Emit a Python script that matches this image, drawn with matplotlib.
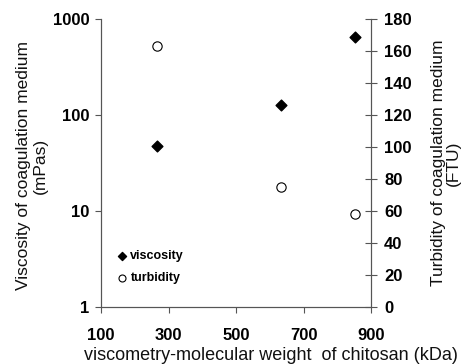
import numpy as np
import matplotlib.pyplot as plt

plt.rcParams['font.family'] = ['Liberation Sans', 'DejaVu Sans']

# data
mw = [265, 633, 852]             # kDa
viscosity = [48, 128, 650]       # mPas (left, log)
turbidity = [163, 75, 58]        # FTU (right)

W, H = 465, 364
fig = plt.figure(figsize=(W / 100, H / 100), dpi=100)
ax = fig.add_axes([101/W, 1-307/H, 270/W, 288/H])
ax2 = ax.twinx()

ax.scatter(mw, viscosity, marker='D', s=30, color='black', label='viscosity', zorder=3)
ax2.scatter(mw, turbidity, marker='o', s=45, facecolor='white', edgecolor='black',
            linewidth=0.8, label='turbidity', zorder=3)

ax.set_yscale('log')
ax.set_ylim(1, 1000)
ax.set_xlim(100, 900)
ax.set_xticks([100, 300, 500, 700, 900])
ax.set_yticks([1, 10, 100, 1000])
ax.set_yticklabels(['1', '10', '100', '1000'])
ax.yaxis.set_minor_locator(plt.NullLocator())
ax2.set_ylim(0, 180)
ax2.set_yticks(np.arange(0, 181, 20))

for a in (ax, ax2):
    for s in a.spines.values():
        s.set_color('#555555')
        s.set_linewidth(0.8)
    a.spines['top'].set_visible(False)

ax.tick_params(axis='both', direction='out', length=4.5, width=0.8, color='#555555',
               labelsize=12, pad=4)
ax.tick_params(axis='x', pad=10.5)
ax2.tick_params(axis='y', direction='inout', length=9, width=0.8, color='#555555',
                labelsize=12, pad=5)
for lab in ax.get_xticklabels() + ax.get_yticklabels() + ax2.get_yticklabels():
    lab.set_fontweight('bold')

fig.text(271/W, 1-355/H, 'viscometry-molecular weight  of chitosan (kDa)',
         fontsize=13, ha='center', va='center', color='#111111')
fig.text(31.5/W, 1-166/H, 'Viscosity of coagulation medium\n(mPas)',
         fontsize=12.5, rotation=90, ha='center', va='center', linespacing=1.15,
         color='#111111')
fig.text(446/W, 1-163/H, 'Turbidity of coagulation medium\n(FTU)',
         fontsize=12.5, rotation=90, ha='center', va='center', linespacing=1.0,
         color='#111111')

h1, l1 = ax.get_legend_handles_labels()
h2, l2 = ax2.get_legend_handles_labels()
ax2.legend(h1 + h2, l1 + l2, loc='lower left', bbox_to_anchor=(0.035, 0.058),
           frameon=False, handlelength=0.8, handletextpad=0.3, borderpad=0,
           markerscale=0.75, prop={'weight': 'bold', 'size': 9}, labelspacing=0.8)

fig.savefig('out.png', dpi=100)
